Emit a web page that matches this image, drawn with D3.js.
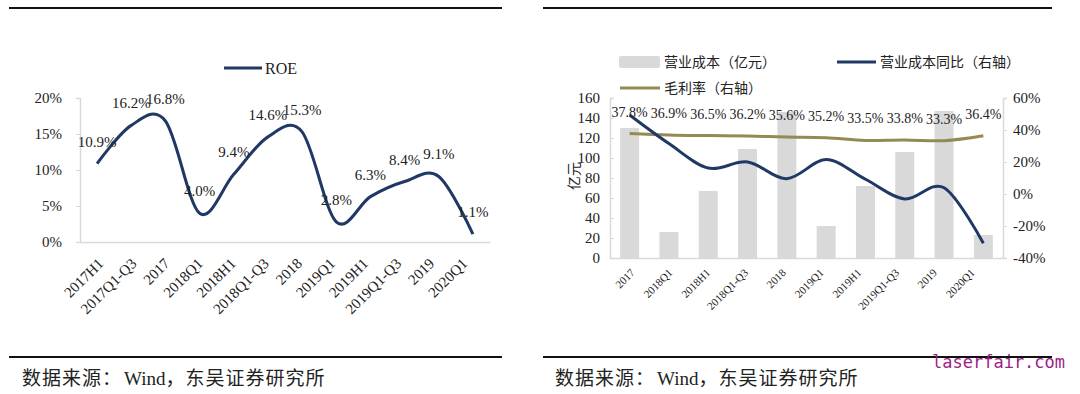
<!DOCTYPE html>
<html>
<head>
<meta charset="utf-8">
<script src="https://cdn.jsdelivr.net/npm/d3@7"></script>
<style>
  body { margin: 0; background: #fff; }
  text { font-family: "Liberation Serif", "Times New Roman", serif; fill: #222; }
  .cjk { font-family: "Noto Sans CJK SC", sans-serif; }
</style>
</head>
<body>
<svg id="chart" width="1080" height="394"></svg>
<script>
// ROE chart data
const roeCats = ["2017H1", "2017Q1-Q3", "2017", "2018Q1", "2018H1", "2018Q1-Q3",
  "2018", "2019Q1", "2019H1", "2019Q1-Q3", "2019", "2020Q1"];
const roeVals = [10.9, 16.2, 16.8, 4.0, 9.4, 14.6, 15.3, 2.8, 6.3, 8.4, 9.1, 1.1];
const roeTicks = [0, 5, 10, 15, 20];

// cost chart data
const costCats = ["2017", "2018Q1", "2018H1", "2018Q1-Q3", "2018", "2019Q1",
  "2019H1", "2019Q1-Q3", "2019", "2020Q1"];
const costVals = [130, 26, 67, 109, 146, 32, 72, 106, 147, 23];
const costYoy = [49.4, 31.5, 16.2, 20.0, 9.6, 21.5, 9.2, -3.1, 3.9, -30.8];
const grossMargin = [37.8, 36.9, 36.5, 36.2, 35.6, 35.2, 33.5, 33.8, 33.3, 36.4];
const costTicks = [0, 20, 40, 60, 80, 100, 120, 140, 160];
const pctTicks = [-40, -20, 0, 20, 40, 60];

const colors = {
  navy: "#1f3864",
  olive: "#948a54",
  bar: "#d9d9d9",
  axis: "#d9d9d9",
  rule: "#111",
  mark: "#9c1f86"
};

const svg = d3.select("#chart");
const smooth = d3.curveCardinal.tension(0);

// frame rules + source notes
function frame(x0, x1) {
  svg.append("line").attr("x1", x0).attr("x2", x1).attr("y1", 8).attr("y2", 8)
    .attr("stroke", colors.rule).attr("stroke-width", 2);
  svg.append("line").attr("x1", x0).attr("x2", x1).attr("y1", 357).attr("y2", 357)
    .attr("stroke", colors.rule).attr("stroke-width", 2);
}
frame(9, 502);
frame(543, 1052);

function source(x) {
  const t = svg.append("text").attr("x", x).attr("y", 385)
    .style("font-size", "19px");
  t.append("tspan").attr("class", "cjk").style("letter-spacing", "1px").text("数据来源：");
  t.append("tspan").attr("dx", 2).text("Wind");
  t.append("tspan").attr("class", "cjk").style("letter-spacing", "1px").text("，东吴证券研究所");
}
source(22);
source(555);

svg.append("text").attr("x", 932).attr("y", 368)
  .style("font-family", "'DejaVu Sans Mono', monospace")
  .style("font-size", "17px")
  .style("fill", colors.mark)
  .text("laserfair.com");

// ---------- left: ROE ----------
{
  const x = d3.scaleBand().domain(roeCats).range([80, 490]);
  const xl = d3.scalePoint().domain(roeCats).range([97, 461]);
  const y = d3.scaleLinear().domain([0, 20]).range([242, 98]);
  const g = svg.append("g");

  g.append("g").attr("transform", "translate(0,242)")
    .call(d3.axisBottom(x).tickSize(0).tickFormat(""))
    .call(a => a.select(".domain").attr("stroke", colors.axis).attr("stroke-width", 1.5));

  g.selectAll(".xl").data(roeCats).enter().append("text")
    .attr("transform", d => "translate(" + xl(d) + ",257) rotate(-45)")
    .attr("text-anchor", "end")
    .attr("dy", "0.7em")
    .style("font-size", "15px")
    .text(d => d);

  g.append("g").attr("transform", "translate(80,0)")
    .call(d3.axisLeft(y).tickValues(roeTicks).tickSize(4).tickPadding(14).tickFormat(d => d + "%"))
    .call(a => a.select(".domain").attr("stroke", colors.axis).attr("stroke-width", 1.5))
    .call(a => a.selectAll(".tick line").attr("stroke", colors.axis))
    .call(a => a.selectAll(".tick text")
      .style("font-family", "'Liberation Serif', serif").style("font-size", "15px").attr("fill", "#222"));

  const line = d3.line()
    .x((d, i) => x(roeCats[i]) + x.bandwidth() / 2)
    .y(d => y(d))
    .curve(smooth);

  g.append("path").datum(roeVals).attr("d", line)
    .attr("fill", "none").attr("stroke", colors.navy).attr("stroke-width", 3);

  g.selectAll(".lab").data(roeVals).enter().append("text")
    .attr("x", (d, i) => x(roeCats[i]) + x.bandwidth() / 2)
    .attr("y", d => y(d) - 17)
    .attr("text-anchor", "middle")
    .style("font-size", "15px")
    .text(d => d.toFixed(1) + "%");

  // legend
  g.append("line").attr("x1", 224).attr("x2", 262).attr("y1", 68).attr("y2", 68)
    .attr("stroke", colors.navy).attr("stroke-width", 3);
  g.append("text").attr("x", 265).attr("y", 74).style("font-size", "16px").text("ROE");
}

// ---------- right: cost ----------
{
  const xc = d3.scaleBand().domain(costCats).range([610, 1003]);
  const xl = d3.scalePoint().domain(costCats).range([630, 970]);
  const cx = d => xc(d) + xc.bandwidth() / 2;
  const yL = d3.scaleLinear().domain([0, 160]).range([258, 98]);
  const yR = d3.scaleLinear().domain([-40, 60]).range([258, 98]);
  const g = svg.append("g");

  g.selectAll(".bar").data(costVals).enter().append("rect")
    .attr("x", (d, i) => cx(costCats[i]) - 9.5)
    .attr("width", 19)
    .attr("y", d => yL(d))
    .attr("height", d => yL(0) - yL(d))
    .attr("fill", colors.bar);

  g.append("g").attr("transform", "translate(0,258)")
    .call(d3.axisBottom(xc).tickSize(0).tickFormat(""))
    .call(a => a.select(".domain").attr("stroke", colors.axis).attr("stroke-width", 1.5));

  g.selectAll(".xl").data(costCats).enter().append("text")
    .attr("transform", d => "translate(" + xl(d) + ",268) rotate(-45)")
    .attr("text-anchor", "end")
    .attr("dy", "0.7em")
    .style("font-size", "11px")
    .text(d => d);

  g.append("g").attr("transform", "translate(610,0)")
    .call(d3.axisRight(yL).tickValues(costTicks).tickSize(4).tickFormat(""))
    .call(a => a.select(".domain").attr("stroke", colors.axis).attr("stroke-width", 1.5))
    .call(a => a.selectAll(".tick line").attr("stroke", colors.axis));
  g.selectAll(".yl").data(costTicks).enter().append("text")
    .attr("x", 600).attr("y", d => yL(d)).attr("dy", "0.35em")
    .attr("text-anchor", "end")
    .style("font-size", "15px")
    .text(d => d);

  g.append("g").attr("transform", "translate(1003,0)")
    .call(d3.axisRight(yR).tickValues(pctTicks).tickSize(4).tickPadding(6).tickFormat(d => d + "%"))
    .call(a => a.select(".domain").attr("stroke", colors.axis).attr("stroke-width", 1.5))
    .call(a => a.selectAll(".tick line").attr("stroke", colors.axis))
    .call(a => a.selectAll(".tick text")
      .style("font-family", "'Liberation Serif', serif").style("font-size", "15px").attr("fill", "#222"));

  g.append("text").attr("class", "cjk")
    .attr("transform", "translate(579,176) rotate(-90)")
    .attr("text-anchor", "middle")
    .style("font-size", "14px")
    .text("亿元");

  const lineR = d3.line()
    .x((d, i) => cx(costCats[i]))
    .y(d => yR(d))
    .curve(smooth);

  g.append("path").datum(grossMargin).attr("d", lineR)
    .attr("fill", "none").attr("stroke", colors.olive).attr("stroke-width", 3);
  g.append("path").datum(costYoy).attr("d", lineR)
    .attr("fill", "none").attr("stroke", colors.navy).attr("stroke-width", 3);

  g.selectAll(".lab").data(grossMargin).enter().append("text")
    .attr("x", (d, i) => cx(costCats[i]))
    .attr("y", d => yR(d) - 17)
    .attr("text-anchor", "middle")
    .style("font-size", "14px")
    .text(d => d.toFixed(1) + "%");

  // legend
  g.append("rect").attr("x", 619).attr("y", 56).attr("width", 41).attr("height", 12)
    .attr("rx", 2).attr("fill", colors.bar);
  g.append("text").attr("class", "cjk").attr("x", 664).attr("y", 67)
    .style("font-size", "14px").text("营业成本（亿元）");
  g.append("line").attr("x1", 837).attr("x2", 876).attr("y1", 62).attr("y2", 62)
    .attr("stroke", colors.navy).attr("stroke-width", 3);
  g.append("text").attr("class", "cjk").attr("x", 880).attr("y", 67)
    .style("font-size", "14px").text("营业成本同比（右轴）");
  g.append("line").attr("x1", 620).attr("x2", 660).attr("y1", 88).attr("y2", 88)
    .attr("stroke", colors.olive).attr("stroke-width", 3);
  g.append("text").attr("class", "cjk").attr("x", 664).attr("y", 93)
    .style("font-size", "14px").text("毛利率（右轴）");
}
</script>
</body>
</html>
